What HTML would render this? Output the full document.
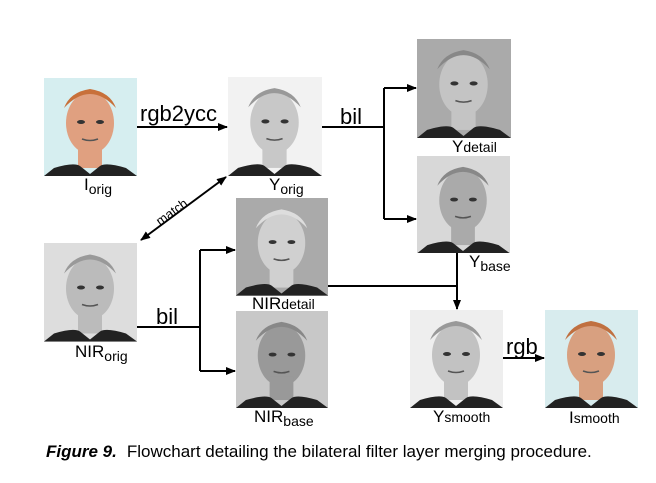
<!DOCTYPE html>
<html><head><meta charset="utf-8"><style>
body{margin:0;background:#fff;width:656px;height:478px;overflow:hidden;font-family:"Liberation Sans",sans-serif}
</style></head><body>
<svg width="656" height="478" xmlns="http://www.w3.org/2000/svg" font-family="Liberation Sans, sans-serif">
<defs>
<marker id="a" markerWidth="10" markerHeight="8" refX="9" refY="4" orient="auto" markerUnits="userSpaceOnUse"><path d="M0,0 L10,4 L0,8 z" fill="#000"/></marker>
<marker id="b" markerWidth="10" markerHeight="8" refX="1" refY="4" orient="auto" markerUnits="userSpaceOnUse"><path d="M10,0 L0,4 L10,8 z" fill="#000"/></marker>
<symbol id="face" viewBox="0 0 93 98">
<ellipse cx="46" cy="45" rx="24" ry="31" fill="var(--s)"/>
<path d="M20 30 Q46 2 72 30 Q66 14 46 11 Q26 14 20 30z" fill="var(--h)"/>
<rect x="34" y="66" width="24" height="24" fill="var(--s)"/>
<path d="M0 98 L10 90 Q30 84 36 88 L46 96 L56 88 Q62 84 82 90 L93 98z" fill="#222"/>
<ellipse cx="37" cy="44" rx="4" ry="2" fill="#333"/><ellipse cx="56" cy="44" rx="4" ry="2" fill="#333"/>
<path d="M38 61 Q46 64 54 61" stroke="#555" stroke-width="1.5" fill="none"/>
</symbol>
</defs>
<g>
<rect x="44" y="78" width="93" height="98" fill="#d6eef0"/><use href="#face" x="44" y="78" width="93" height="98" style="--s:#e0a080;--h:#c8703a"/>
<rect x="228" y="77" width="94" height="99" fill="#f2f2f2"/><use href="#face" x="228" y="77" width="94" height="99" style="--s:#c8c8c8;--h:#999"/>
<rect x="417" y="39" width="94" height="99" fill="#aaa"/><use href="#face" x="417" y="39" width="94" height="99" style="--s:#c4c4c4;--h:#888"/>
<rect x="417" y="156" width="93" height="97" fill="#d8d8d8"/><use href="#face" x="417" y="156" width="93" height="97" style="--s:#aaa;--h:#888"/>
<rect x="44" y="243" width="93" height="99" fill="#ddd"/><use href="#face" x="44" y="243" width="93" height="99" style="--s:#bbb;--h:#999"/>
<rect x="236" y="198" width="92" height="98" fill="#aaa"/><use href="#face" x="236" y="198" width="92" height="98" style="--s:#d0d0d0;--h:#ddd"/>
<rect x="236" y="311" width="92" height="97" fill="#c8c8c8"/><use href="#face" x="236" y="311" width="92" height="97" style="--s:#999;--h:#888"/>
<rect x="410" y="310" width="93" height="98" fill="#eee"/><use href="#face" x="410" y="310" width="93" height="98" style="--s:#c2c2c2;--h:#999"/>
<rect x="545" y="310" width="93" height="98" fill="#d8ecee"/><use href="#face" x="545" y="310" width="93" height="98" style="--s:#d8a080;--h:#c07040"/>
</g>
<g stroke="#000" stroke-width="2" fill="none">
<line x1="137" y1="127" x2="227" y2="127" marker-end="url(#a)"/>
<polyline points="322,127 384,127"/>
<line x1="384" y1="88" x2="384" y2="219"/>
<line x1="384" y1="88" x2="416" y2="88" marker-end="url(#a)"/>
<line x1="384" y1="219" x2="416" y2="219" marker-end="url(#a)"/>
<line x1="141" y1="240" x2="226" y2="177" marker-start="url(#b)" marker-end="url(#a)"/>
<line x1="137" y1="327" x2="200" y2="327"/>
<line x1="200" y1="250" x2="200" y2="371"/>
<line x1="200" y1="250" x2="235" y2="250" marker-end="url(#a)"/>
<line x1="200" y1="371" x2="235" y2="371" marker-end="url(#a)"/>
<line x1="328" y1="286" x2="457" y2="286"/>
<line x1="457" y1="253" x2="457" y2="309" marker-end="url(#a)"/>
<line x1="503" y1="358" x2="544" y2="358" marker-end="url(#a)"/>
</g>
<g fill="#000">
<text x="140" y="121" font-size="22">rgb2ycc</text>
<text x="340" y="124" font-size="22">bil</text>
<text x="156" y="324" font-size="22">bil</text>
<text x="506" y="354" font-size="22">rgb</text>
<text x="0" y="0" font-size="13" transform="translate(160,226) rotate(-36)">match</text>
<text x="84" y="190" font-size="17">I<tspan font-size="14" dy="4">orig</tspan></text>
<text x="269" y="190" font-size="17">Y<tspan font-size="14" dy="4">orig</tspan></text>
<text x="452" y="152" font-size="17">Y<tspan font-size="14">detail</tspan></text>
<text x="469" y="267" font-size="17">Y<tspan font-size="14" dy="4">base</tspan></text>
<text x="75" y="357" font-size="17">NIR<tspan font-size="14" dy="4">orig</tspan></text>
<text x="252" y="309" font-size="17">NIR<tspan font-size="14">detail</tspan></text>
<text x="254" y="422" font-size="17">NIR<tspan font-size="14" dy="4">base</tspan></text>
<text x="433" y="422" font-size="17">Y<tspan font-size="14">smooth</tspan></text>
<text x="569" y="423" font-size="17">I<tspan font-size="14">smooth</tspan></text>
<text x="46" y="457" font-size="17"><tspan font-weight="bold" font-style="italic">Figure 9.</tspan><tspan dx="10">Flowchart detailing the bilateral filter layer merging procedure.</tspan></text>
</g>
</svg>
</body></html>
